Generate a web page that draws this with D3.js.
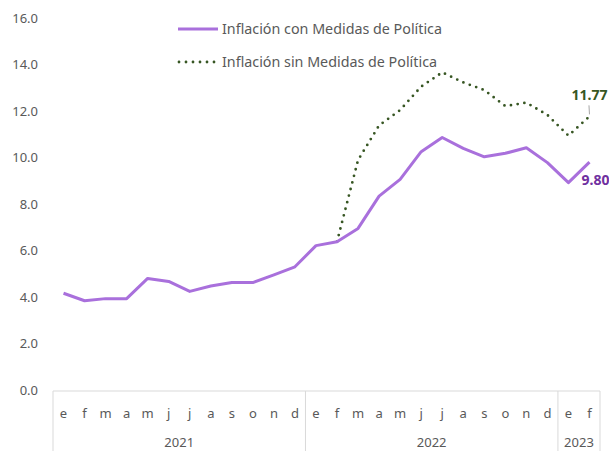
<!DOCTYPE html>
<html>
<head>
<meta charset="utf-8">
<script src="https://cdn.jsdelivr.net/npm/d3@7"></script>
<style>
  body { margin: 0; background: #fff; }
  svg { display: block; font-family: "Noto Sans", "Open Sans", sans-serif; }
</style>
</head>
<body>
<div id="wrapper"></div>
<script>
// data
const years = ["2021", "2022", "2023"]
const months = [
  "e","f","m","a","m","j","j","a","s","o","n","d",
  "e","f","m","a","m","j","j","a","s","o","n","d",
  "e","f"
]
const monthYear = [
  0,0,0,0,0,0,0,0,0,0,0,0,
  1,1,1,1,1,1,1,1,1,1,1,1,
  2,2
]
const conMedidas = [
  4.16, 3.84, 3.93, 3.93, 4.80, 4.67, 4.24, 4.47, 4.62, 4.62, 4.95, 5.30,
  6.21, 6.38, 6.95, 8.34, 9.06, 10.25, 10.86, 10.39, 10.03, 10.18, 10.42, 9.78,
  8.92, 9.80
]
// starts in Feb 2022
const sinMedidas = [
  null, null, null, null, null, null, null, null, null, null, null, null,
  null, 6.38, 9.89, 11.38, 12.04, 13.05, 13.66, 13.23, 12.90, 12.21, 12.36, 11.83,
  10.94, 11.77
]
const yTicks = [0, 2, 4, 6, 8, 10, 12, 14, 16]
const seriesNames = ["Inflación con Medidas de Política", "Inflación sin Medidas de Política"]

const purple = "#A970DC"
const green = "#375623"
const textGrey = "#595959"

// dimensions
const dimensions = {
  width: 609,
  height: 451,
  margin: { top: 18, right: 9, bottom: 61, left: 53 },
}
dimensions.boundedWidth = dimensions.width - dimensions.margin.left - dimensions.margin.right
dimensions.boundedHeight = dimensions.height - dimensions.margin.top - dimensions.margin.bottom

const svg = d3.select("#wrapper").append("svg")
    .attr("width", dimensions.width)
    .attr("height", dimensions.height)

const bounds = svg.append("g")
    .attr("transform", `translate(${dimensions.margin.left},${dimensions.margin.top})`)

// scales
const idx = d3.range(months.length)
const xScale = d3.scaleBand()
  .domain(idx)
  .range([0, dimensions.boundedWidth])
const xCenter = i => xScale(i) + xScale.bandwidth() / 2

const yScale = d3.scaleLinear()
  .domain([0, 16])
  .range([dimensions.boundedHeight, 0])

// y axis labels
bounds.append("g")
  .selectAll("text")
  .data(yTicks)
  .join("text")
    .attr("x", -15)
    .attr("y", d => yScale(d))
    .attr("dy", "0.35em")
    .attr("text-anchor", "end")
    .attr("fill", textGrey)
    .style("font-size", "13px")
    .text(d => d.toFixed(1))

// category axis box
const axisG = bounds.append("g")
    .attr("transform", `translate(0,${dimensions.boundedHeight + 1})`)
const axisBottom = dimensions.margin.bottom + 2

axisG.append("line")
    .attr("x1", 0).attr("x2", dimensions.boundedWidth)
    .attr("stroke", "#d9d9d9")

const yearBounds = years.map((y, k) => {
  const members = idx.filter(i => monthYear[i] === k)
  return {
    year: y,
    x0: xScale(members[0]),
    x1: xScale(members[members.length - 1]) + xScale.bandwidth(),
  }
})

axisG.selectAll(".divider")
  .data([0, ...yearBounds.map(d => d.x1)])
  .join("line")
    .attr("x1", d => d).attr("x2", d => d)
    .attr("y1", 0).attr("y2", axisBottom)
    .attr("stroke", "#d9d9d9")

axisG.selectAll(".month")
  .data(idx)
  .join("text")
    .attr("x", d => xCenter(d))
    .attr("y", 22)
    .attr("dy", "0.35em")
    .attr("text-anchor", "middle")
    .attr("fill", textGrey)
    .style("font-size", "13px")
    .text(d => months[d])

axisG.selectAll(".year")
  .data(yearBounds)
  .join("text")
    .attr("x", d => (d.x0 + d.x1) / 2)
    .attr("y", 51)
    .attr("dy", "0.35em")
    .attr("text-anchor", "middle")
    .attr("fill", textGrey)
    .style("font-size", "13px")
    .text(d => d.year)

// lines
const lineGen = d3.line()
  .defined(d => d[1] != null)
  .x(d => xCenter(d[0]))
  .y(d => yScale(d[1]))

bounds.append("path")
    .datum(idx.map(i => [i, sinMedidas[i]]))
    .attr("d", lineGen)
    .attr("fill", "none")
    .attr("stroke", green)
    .attr("stroke-width", 2.8)
    .attr("stroke-linecap", "round")
    .attr("stroke-dasharray", "0 6.8")

bounds.append("path")
    .datum(idx.map(i => [i, conMedidas[i]]))
    .attr("d", lineGen)
    .attr("fill", "none")
    .attr("stroke", purple)
    .attr("stroke-width", 3)
    .attr("stroke-linejoin", "round")

// end labels
const last = months.length - 1
bounds.append("text")
    .attr("x", xCenter(last))
    .attr("y", yScale(sinMedidas[last]) - 21)
    .attr("dy", "0.35em")
    .attr("text-anchor", "middle")
    .attr("fill", green)
    .style("font-size", "14px")
    .style("font-weight", "bold")
    .text(sinMedidas[last].toFixed(2))

bounds.append("line")
    .attr("x1", xCenter(last) - 0.5)
    .attr("x2", xCenter(last))
    .attr("y1", yScale(sinMedidas[last]) - 11)
    .attr("y2", yScale(sinMedidas[last]) - 2)
    .attr("stroke", "#a6a6a6")

bounds.append("text")
    .attr("x", xCenter(last) + 6)
    .attr("y", yScale(conMedidas[last]) + 18)
    .attr("dy", "0.35em")
    .attr("text-anchor", "middle")
    .attr("fill", "#7030A0")
    .style("font-size", "14px")
    .style("font-weight", "bold")
    .text(conMedidas[last].toFixed(2))

// legend
const legend = svg.append("g")
    .attr("transform", "translate(178,29)")

legend.append("line")
    .attr("x1", 0).attr("x2", 40)
    .attr("stroke", purple)
    .attr("stroke-width", 3)

legend.append("line")
    .attr("x1", 1).attr("x2", 40)
    .attr("y1", 33).attr("y2", 33)
    .attr("stroke", green)
    .attr("stroke-width", 2.8)
    .attr("stroke-linecap", "round")
    .attr("stroke-dasharray", "0 7")

legend.selectAll(".legend-text")
  .data(seriesNames)
  .join("text")
    .attr("x", 44)
    .attr("y", (d, i) => i * 33)
    .attr("dy", "0.35em")
    .attr("fill", textGrey)
    .style("font-size", "14.3px")
    .text(d => d)
</script>
</body>
</html>
